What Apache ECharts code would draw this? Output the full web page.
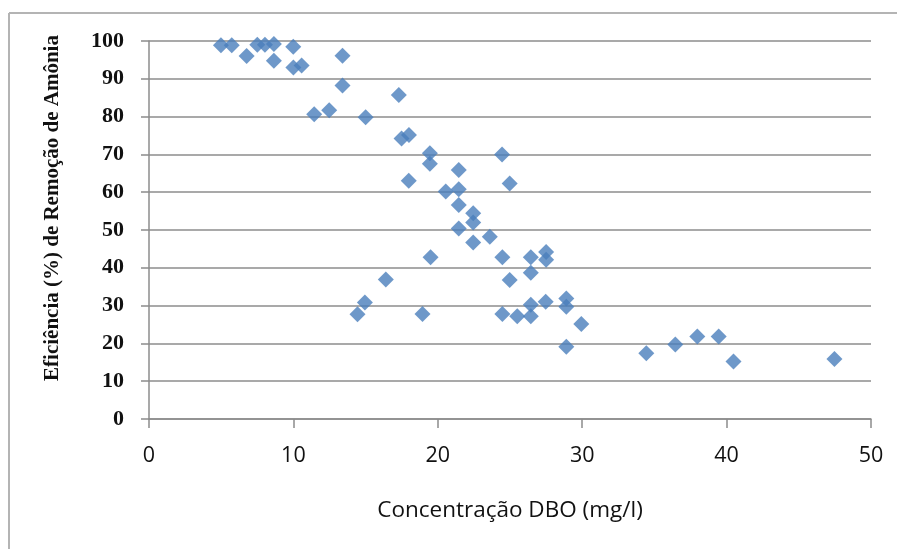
<!DOCTYPE html>
<html>
<head>
<meta charset="utf-8">
<script src="https://cdn.jsdelivr.net/npm/echarts@6/dist/echarts.min.js"></script>
<style>
html,body{margin:0;padding:0;background:#fff;}
#chart{width:897px;height:549px;}
</style>
</head>
<body>
<div id="chart"></div>
<script>
// DBO concentration (mg/l)
var dboValues = [4.98, 5.73, 6.76, 7.5, 8.03, 8.65, 8.65, 9.99, 10.0, 10.57,
  13.4, 13.4, 11.44, 12.48, 15.0, 17.3, 17.49, 18.0, 19.45, 19.45,
  24.45, 21.45, 17.99, 24.98, 20.55, 21.45, 21.45, 22.45, 22.45, 21.45,
  23.6, 22.45, 19.5, 24.47, 26.44, 27.5, 27.5, 26.44, 24.98, 16.4,
  14.95, 14.44, 18.94, 24.47, 25.5, 26.44, 26.44, 27.47, 28.9, 28.9,
  29.94, 28.9, 34.44, 36.45, 37.97, 39.45, 40.48, 47.47];
// Ammonia removal efficiency (%)
var efficiencyValues = [98.9, 98.9, 96.0, 99.0, 99.0, 99.2, 94.8, 98.5, 93.0, 93.5,
  96.1, 88.2, 80.6, 81.7, 79.8, 85.7, 74.2, 75.1, 70.3, 67.5,
  70.0, 65.9, 63.0, 62.3, 60.2, 60.8, 56.6, 54.4, 52.0, 50.4,
  48.2, 46.7, 42.8, 42.8, 42.8, 44.2, 42.1, 38.7, 36.8, 36.9,
  30.8, 27.7, 27.8, 27.8, 27.2, 27.2, 30.2, 31.0, 31.9, 29.7,
  25.1, 19.1, 17.4, 19.7, 21.8, 21.8, 15.2, 15.9];
var xAxisTitle = 'Concentração DBO (mg/l)';
var yAxisTitle = 'Eficiência (%) de Remoção de Amônia';

var points = dboValues.map(function (x, i) { return [x, efficiencyValues[i]]; });

var chart = echarts.init(document.getElementById('chart'), null, {renderer: 'canvas'});
chart.setOption({
  backgroundColor: '#ffffff',
  animation: false,
  grid: {left: 149, right: 26, top: 41, bottom: 130, containLabel: false},
  xAxis: {
    type: 'value', min: 0, max: 50, interval: 10,
    name: xAxisTitle, nameLocation: 'middle', nameGap: 80,
    nameTextStyle: {fontFamily: 'Open Sans', fontSize: 22.5, color: '#111', fontWeight: 'normal'},
    axisLine: {show: true, onZero: false, lineStyle: {color: '#8c8c8c', width: 1.5}},
    axisTick: {show: true, inside: false, length: 9, lineStyle: {color: '#8c8c8c', width: 1.5}},
    axisLabel: {margin: 26, fontFamily: 'Open Sans', fontSize: 21.5, color: '#111'},
    splitLine: {show: false}
  },
  yAxis: {
    type: 'value', min: 0, max: 100, interval: 10,
    axisLine: {show: true, lineStyle: {color: '#8c8c8c', width: 1.5}},
    axisTick: {show: true, inside: false, length: 8, lineStyle: {color: '#8c8c8c', width: 1.5}},
    axisLabel: {margin: 25, fontFamily: 'Liberation Serif', fontWeight: 'bold', fontSize: 22, color: '#111'},
    splitLine: {show: true, lineStyle: {color: '#8c8c8c', width: 1.5}}
  },
  graphic: [
    {type: 'line', shape: {x1: 9, y1: 13, x2: 897, y2: 13}, style: {stroke: '#b4b4b4', lineWidth: 2}},
    {type: 'line', shape: {x1: 9, y1: 13, x2: 9, y2: 549}, style: {stroke: '#b4b4b4', lineWidth: 2}},
    {type: 'text', x: 53, y: 208, rotation: Math.PI / 2,
      style: {text: yAxisTitle, fontFamily: 'Liberation Serif', fontWeight: 'bold', fontSize: 21,
        fill: '#111', textAlign: 'center', textVerticalAlign: 'middle'}}
  ],
  series: [{
    type: 'scatter',
    symbol: 'diamond',
    symbolSize: 16,
    itemStyle: {color: '#4a7ebb'},
    data: points
  }]
});
</script>
</body>
</html>
